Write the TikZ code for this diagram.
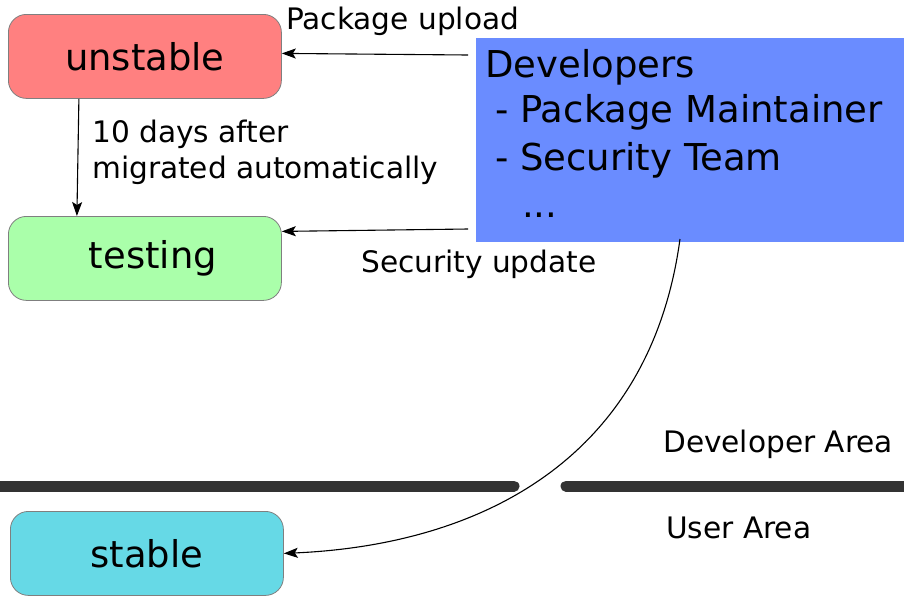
\documentclass[tikz,border=0pt]{standalone}
\usepackage{fontspec}
\setmainfont{DejaVu Sans}
\usetikzlibrary{arrows.meta}
\definecolor{unstablecol}{HTML}{FF8080}
\definecolor{testingcol}{HTML}{AAFFAA}
\definecolor{stablecol}{HTML}{66D9E6}
\definecolor{devcol}{HTML}{6A8CFF}
\definecolor{barcol}{HTML}{333333}
\definecolor{boxgray}{HTML}{7F7F7F}
\tikzset{
  stagebox/.style={draw=boxgray, line width=0.8pt, rounded corners=18pt,
    minimum width=273pt, minimum height=84pt, inner sep=0pt,
    font=\fontsize{36.9}{40}\selectfont},
  arr/.style={-{Stealth[length=14pt,width=10pt,inset=3pt]}, line width=1.1pt},
  lbl/.style={font=\fontsize{29.6}{36}\selectfont, anchor=base west, inner sep=0pt},
  devline/.style={font=\fontsize{37}{44}\selectfont, anchor=base west, inner sep=0pt},
  areabar/.style={line width=11pt, line cap=round, draw=barcol}
}
\begin{document}
\begin{tikzpicture}[x=1pt,y=-1pt]
\useasboundingbox (0,0) rectangle (904,595);
% boxes
\node[stagebox, fill=unstablecol, anchor=north west] (unstable) at (8,14) {unstable};
\node[stagebox, fill=testingcol, anchor=north west] (testing) at (8,216) {\hspace{16pt}testing};
\node[stagebox, fill=stablecol, anchor=north west] (stable) at (10,511) {stable};
\node[fill=devcol, draw=none, anchor=north west, minimum width=440pt, minimum height=204pt, inner sep=0pt] (dev) at (476,38) {};
% developer text
\node[devline] (dl1) at (485,77) {Developers};
\node[devline] (dl2) at (495,122) {- Package Maintainer};
\node[devline] (dl3) at (495,170) {- Security Team};
\node[devline] (dl4) at (522,217) {...};
% labels
\node[lbl] (pkg) at (286,29) {Package upload};
\node[lbl] (sec) at (361,272) {Security update};
\node[lbl] (days1) at (92,142) {10 days after};
\node[lbl] (days2) at (92,178) {migrated automatically};
\node[lbl] (devarea) at (663,452) {Developer Area};
\node[lbl] (userarea) at (666,538) {User Area};
% bars
\draw[areabar] (-10,486) -- (514,486);
\draw[areabar] (566,486) -- (920,486);
% connectors
\coordinate (pu) at (468,55);
\coordinate (su) at (468,229);
\coordinate (cs) at (680,239);
\draw[arr] (pu) -- ([yshift=3pt]unstable.east);
\draw[arr] (su) -- ([yshift=27pt]testing.east);
\draw[arr] ([xshift=-66pt]unstable.south) -- ([xshift=-68pt]testing.north);
\draw[arr] (cs) .. controls (650,460) and (480,545) .. (stable.east);
\end{tikzpicture}
\end{document}
